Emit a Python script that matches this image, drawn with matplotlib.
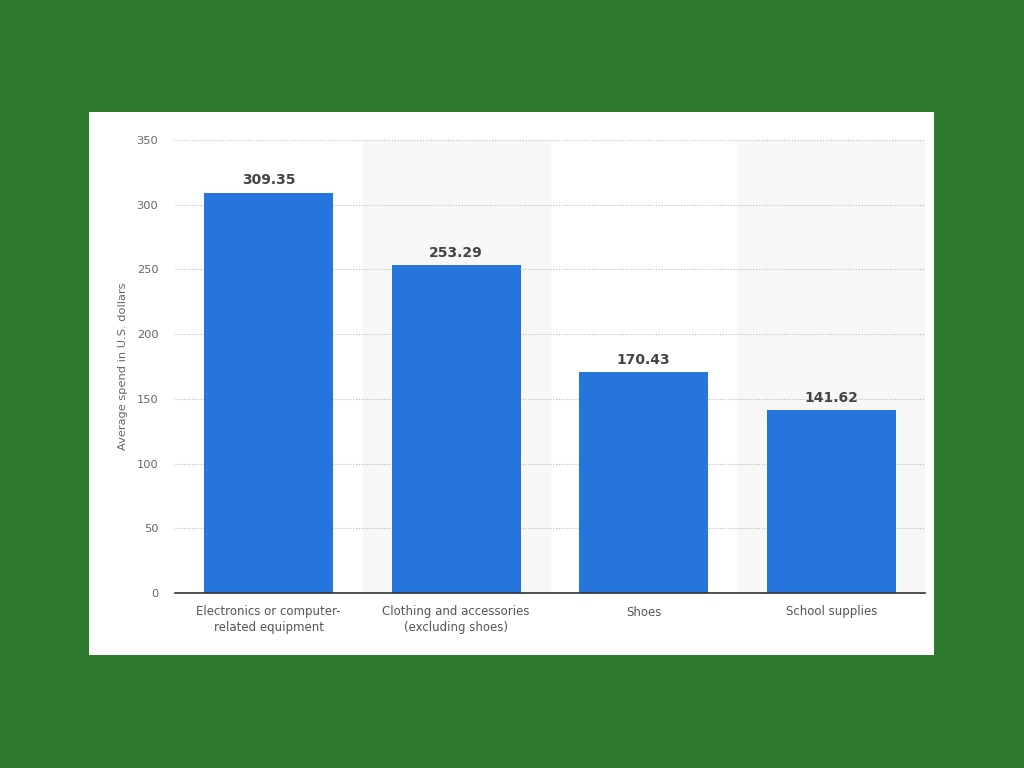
import matplotlib.pyplot as plt
from matplotlib.patches import Rectangle

categories = ['Electronics or computer-\nrelated equipment',
              'Clothing and accessories\n(excluding shoes)',
              'Shoes',
              'School supplies']
values = [309.35, 253.29, 170.43, 141.62]
y_ticks = [0, 50, 100, 150, 200, 250, 300, 350]

fig = plt.figure(figsize=(10.24, 7.68), dpi=100)
fig.patch.set_facecolor('#2e7b2f')

# white card behind the chart
fig.patches.append(Rectangle((89 / 1024, 1 - 655 / 768), 845 / 1024, 543 / 768,
                             transform=fig.transFigure, facecolor='white',
                             edgecolor='none', zorder=-10))

ax = fig.add_axes([175 / 1024, 1 - 593 / 768, 750 / 1024, 453 / 768])
ax.set_facecolor('none')
ax.set_zorder(1)

x = list(range(len(values)))

# alternating shaded columns
for i in x:
    if i % 2 == 1:
        ax.axvspan(i - 0.5, i + 0.5, ymin=0, ymax=349 / 350,
                   color='#f7f7f6', zorder=0)

ax.bar(x, values, width=0.69, color='#2675dd', zorder=3)

for xi, v in zip(x, values):
    ax.text(xi, v + 4, f'{v:.2f}', ha='center', va='bottom',
            fontsize=10, fontweight='bold', color='#444444', zorder=4)

ax.set_xlim(-0.5, len(values) - 0.5)
ax.set_ylim(0, 350)
ax.set_yticks(y_ticks)
ax.set_xticks(x)
ax.set_xticklabels(categories, fontsize=8.5, color='#555555', linespacing=1.3)
ax.tick_params(axis='y', labelsize=8.2, labelcolor='#666666', length=0, pad=12)
ax.tick_params(axis='x', length=0, pad=9)

ax.grid(axis='y', linestyle=(0, (1, 1.5)), color='#bbbbbb', linewidth=0.8, zorder=1)
ax.set_axisbelow(True)

for side in ['top', 'right', 'left']:
    ax.spines[side].set_visible(False)
ax.spines['bottom'].set_color('#333333')
ax.spines['bottom'].set_linewidth(1.2)
ax.spines['bottom'].set_zorder(5)

ax.set_ylabel('Average spend in U.S. dollars', fontsize=8.2, color='#666666', labelpad=6)

fig.savefig('out.png', dpi=100, facecolor=fig.get_facecolor())
